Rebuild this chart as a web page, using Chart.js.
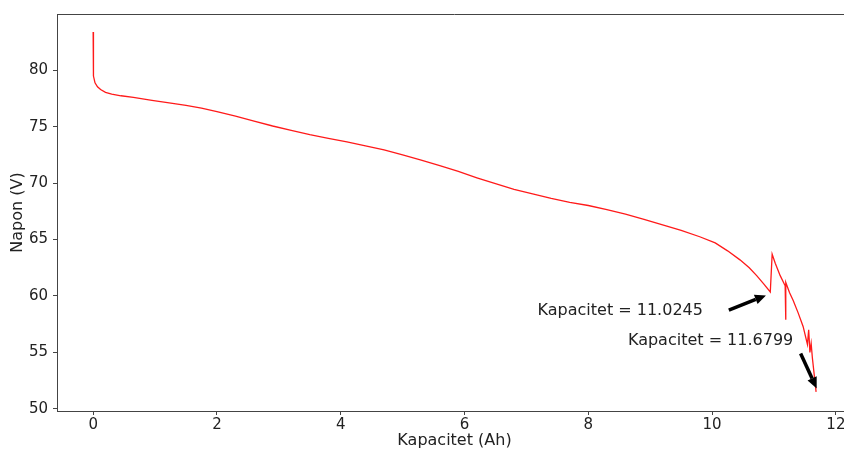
<!DOCTYPE html>
<html>
<head>
<meta charset="utf-8">
<script src="https://cdn.jsdelivr.net/npm/chart.js"></script>
<style>
  html, body { margin: 0; padding: 0; background: #fff; overflow: hidden; }
  #wrap { width: 844px; height: 453px; overflow: hidden; }
  canvas { display: block; }
</style>
</head>
<body>
<div id="wrap"><canvas id="battChart" width="870" height="453"></canvas></div>
<script>
// Capacity (Ah) vs voltage (V)
const capacity = [0, 0, 0.01, 0.03, 0.07, 0.12, 0.2, 0.3, 0.45, 0.65, 0.95, 1.2, 1.5, 1.75, 2.0,
  2.3, 2.6, 2.9, 3.2, 3.5, 3.8, 4.1, 4.4, 4.7, 5.0, 5.3, 5.6, 5.9, 6.2, 6.5, 6.8, 7.1, 7.4,
  7.7, 8.0, 8.3, 8.6, 8.9, 9.2, 9.5, 9.8, 10.05, 10.25, 10.45, 10.6, 10.72, 10.83, 10.94,
  10.97, 11.02, 11.1, 11.18, 11.19, 11.19, 11.25, 11.31, 11.39, 11.47, 11.54, 11.56, 11.58,
  11.6, 11.62, 11.68];
const voltage = [83.4, 80.2, 79.5, 78.9, 78.55, 78.3, 78.05, 77.9, 77.75, 77.6, 77.35, 77.15, 76.9, 76.65, 76.35,
  75.95, 75.5, 75.07, 74.68, 74.3, 73.98, 73.66, 73.3, 72.95, 72.5, 72.05, 71.55, 71.05, 70.48, 69.95, 69.45, 69.05, 68.65,
  68.3, 68.02, 67.65, 67.25, 66.8, 66.3, 65.82, 65.25, 64.7, 64.0, 63.2, 62.5, 61.8, 61.1, 60.35,
  63.7, 62.9, 61.8, 60.9, 57.9, 61.2, 60.3, 59.6, 58.5, 57.3, 55.7, 57.0, 55.0,
  55.8, 54.5, 51.5];

const xTicks = [0, 2, 4, 6, 8, 10, 12];
const yTicks = [50, 55, 60, 65, 70, 75, 80];

// annotation labels and where their arrows point (data units)
const noteTexts = ['Kapacitet = 11.0245', 'Kapacitet = 11.6799'];
const noteTextAt = [[7.18, 58.67], [8.64, 56.05]];
const arrowFrom = [[10.27, 58.75], [11.43, 54.9]];
const arrowTo = [[10.87, 60.05], [11.69, 51.8]];

const FONT = "'DejaVu Sans', sans-serif";

const notesPlugin = {
  id: 'notes',
  afterDraw(chart) {
    const { ctx, chartArea: a, scales: { x, y } } = chart;
    ctx.save();
    // top spine (right spine is cut off in the original)
    ctx.strokeStyle = '#444';
    ctx.lineWidth = 1;
    ctx.beginPath();
    ctx.moveTo(a.left, a.top + 0.5);
    ctx.lineTo(a.right, a.top + 0.5);
    ctx.stroke();

    ctx.font = '16px ' + FONT;
    ctx.fillStyle = '#222';
    ctx.textAlign = 'left';
    ctx.textBaseline = 'middle';
    noteTexts.forEach((t, i) => {
      ctx.fillText(t, x.getPixelForValue(noteTextAt[i][0]), y.getPixelForValue(noteTextAt[i][1]));
    });

    ctx.strokeStyle = '#000';
    ctx.fillStyle = '#000';
    arrowFrom.forEach((f, i) => {
      const x0 = x.getPixelForValue(f[0]), y0 = y.getPixelForValue(f[1]);
      const x1 = x.getPixelForValue(arrowTo[i][0]), y1 = y.getPixelForValue(arrowTo[i][1]);
      const ang = Math.atan2(y1 - y0, x1 - x0);
      const hl = 11, hw = 5;
      const bx = x1 - hl * Math.cos(ang), by = y1 - hl * Math.sin(ang);
      ctx.lineWidth = 3.5;
      ctx.beginPath();
      ctx.moveTo(x0, y0);
      ctx.lineTo(bx, by);
      ctx.stroke();
      ctx.beginPath();
      ctx.moveTo(x1, y1);
      ctx.lineTo(bx + hw * Math.sin(ang), by - hw * Math.cos(ang));
      ctx.lineTo(bx - hw * Math.sin(ang), by + hw * Math.cos(ang));
      ctx.closePath();
      ctx.fill();
    });
    ctx.restore();
  }
};

const ctx = document.getElementById('battChart').getContext('2d');
const battChart = new Chart(ctx, {
  type: 'line',
  data: {
    datasets: [{
      data: capacity.map((c, i) => ({ x: c, y: voltage[i] })),
      borderColor: '#ff1a1a',
      borderWidth: 1.3,
      pointRadius: 0,
      tension: 0,
      fill: false
    }]
  },
  options: {
    responsive: false,
    animation: false,
    layout: { padding: { top: 11, right: 18, left: 0, bottom: 0 } },
    plugins: { legend: { display: false }, tooltip: { enabled: false } },
    scales: {
      x: {
        type: 'linear',
        min: -0.584,
        max: 12.26,
        afterBuildTicks: s => { s.ticks = xTicks.map(v => ({ value: v })); },
        afterFit: s => { s.height = 42; },
        grid: { drawOnChartArea: false, drawTicks: true, tickLength: 4, color: '#444' },
        border: { display: true, color: '#444' },
        ticks: { font: { family: FONT, size: 15 }, color: '#222', padding: 1, maxRotation: 0 },
        title: { display: true, text: 'Kapacitet (Ah)', font: { family: FONT, size: 16 }, color: '#222', padding: { top: 0, bottom: 3 } }
      },
      y: {
        min: 49.8,
        max: 85,
        afterBuildTicks: s => { s.ticks = yTicks.map(v => ({ value: v })); },
        afterFit: s => { s.width = 57; },
        grid: { drawOnChartArea: false, drawTicks: true, tickLength: 4, color: '#444' },
        border: { display: true, color: '#444' },
        ticks: { font: { family: FONT, size: 15 }, color: '#222', padding: 5 },
        title: { display: true, text: 'Napon (V)', font: { family: FONT, size: 16 }, color: '#222', padding: { top: 8, bottom: 0 } }
      }
    }
  },
  plugins: [notesPlugin]
});
</script>
</body>
</html>
